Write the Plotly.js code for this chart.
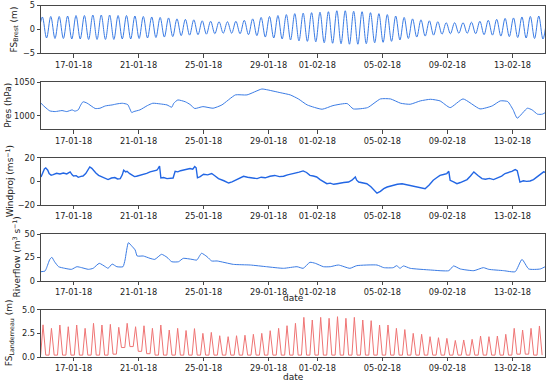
<!DOCTYPE html>
<html><head><meta charset="utf-8">
<script src="https://cdn.plot.ly/plotly-3.0.1.min.js"></script>
<style>html,body{margin:0;padding:0;background:#fff}#chart{width:550px;height:383px}</style>
</head><body><div id="chart"></div>
<script>
// ---------- DATA ----------
// Time origin: 2018-01-15 00:00; times below are hours after it.
const tidePeriodH = 12.42;          // semi-diurnal sampling step between high waters
const brestFirstHighH = 2;          // first Brest high water
const landFirstHighH = 3;           // first Landerneau high water

// Brest free surface (m): successive high / low water levels
const brestHighs = [2.6,2.7,2.7,2.8,2.9,2.9,3.0,3.0,3.0,2.9, 2.9,2.8,2.7,2.6,2.5,2.4,2.2,2.1,2.0,1.8,
  1.7,1.6,1.6,1.7,1.9,2.2,2.5,2.7,2.9,3.1, 3.3,3.4,3.5,3.6,3.7,3.9,3.9,3.8,3.7,3.5,
  3.3,3.1,2.8,2.5,2.2,2.0,1.8,1.6,1.4,1.4, 1.4,1.5,1.7,1.9,2.1,2.3,2.4,2.6,2.7,2.8, 2.9];
const brestLows = [-1.8,-1.9,-1.9,-2.0,-2.0,-2.1,-2.1,-2.1,-2.1,-2.0, -2.0,-1.9,-1.8,-1.7,-1.6,-1.5,-1.3,-1.2,-1.1,-1.0,
  -0.9,-0.8,-0.8,-0.9,-1.1,-1.3,-1.6,-1.8,-2.0,-2.2, -2.4,-2.5,-2.6,-2.8,-2.9,-3.0,-3.1,-3.1,-3.0,-2.8,
  -2.7,-2.5,-2.2,-1.9,-1.6,-1.4,-1.2,-1.0,-0.9,-0.8, -0.8,-0.9,-1.1,-1.2,-1.4,-1.5,-1.7,-1.8,-1.9,-2.0];
const brestLowBefore = -1.8;

// Pressure (hPa)
const presHours = [0,6,13,21,31,38,46,50,55,58, 62,68,80,87,95,105,112,120,128,134, 137,146,157,165,176,186,193,196,202,213,
  220,227,239,254,267,287,304,326,335,353, 368,380,393,415,431,452,461,482,501,516, 531,545,560,575,589,604,623,648,666,678,
  689,697,703,718,725,733,740,747];
const presValues = [1018.8,1013,1007.4,1006.4,1007.9,1006.4,1008.9,1007,1009,1015, 1021,1019,1011,1011.4,1014.8,1016.3,1017.8,1018.8,1016.8,1004.9,
  1006.4,1008.9,1015.3,1018.8,1017.8,1016.3,1012.9,1018.8,1023.7,1021, 1017,1011,1013.8,1011.4,1016.3,1031.2,1031.2,1040,1038.6,1034.6,
  1031.2,1025.2,1016.3,1009.9,1015.3,1018.3,1010.4,1012.3,1025.2,1025.2, 1018.8,1017.3,1022.3,1024.7,1022.3,1012.3,1025.2,1010.4,1014.8,1022.3,
  1021.3,1008.9,996.6,1011.4,1008.9,1002.5,1002.5,1006.4];

// Projected wind (m/s)
const windHours = [0,3,5,7,10,12,15,18,23,28, 33,38,41,43,46,48,52,55,59,62, 66,69,72,75,77,81,85,89,92,96,
  99,104,109,113,117,120,122,125,127,131, 134,138,141,146,151,156,161,166,171,173, 175,177,181,186,190,195,198,202,206,210,
  215,220,224,227,229,231,235,240,246,252, 257,262,270,277,282,287,293,299,305,311, 319,325,331,338,345,352,358,364,370,375,
  381,387,392,397,402,407,412,417,422,427, 432,437,442,447,454,459,464,466,469,475, 481,487,492,496,501,506,511,516,520,526,
  533,539,545,551,556,561,567,573,579,584, 589,594,599,602,604,609,614,619,624,629, 634,639,645,651,656,662,668,674,680,685,
  690,695,700,703,707,712,717,722,727,732, 737,742,747];
const windValues = [3.7,8,10.5,11.4,9.4,6.6,5.2,5.7,6.8,6.2, 7.0,6.3,7.2,8.0,5.5,4.5,4.8,3.4,4.2,4.5, 6.6,9.5,12.2,11.0,9.4,7.0,5.1,4.0,3.2,2.5,
  1.5,2.8,3.2,2.0,2.3,5.5,9.4,8.0,8.5,6.5, 5.7,4.0,4.3,5.0,5.7,6.8,8.0,8.6,9.4,11.0, 13.0,2.8,3.2,2.3,2.6,2.8,8.5,8.0,9.0,9.4,
  9.8,10.8,10.2,12.5,11.5,3.0,4.0,6.0,5.5,6.6, 4.5,2.3,0.5,-1.4,-0.5,0.9,2.5,4.3,3.5,2.8, 2.3,3.5,3.0,4.3,5.0,4.0,4.3,5.5,6.6,7.0,
  7.8,8.8,7.5,5.1,4.5,3.7,1.5,0.0,-2.0,-1.5, -2.5,-2.0,-1.2,-1.0,-0.6,1.0,3.7,1.0,-0.6,-1.2, -2.0,-4.5,-7.5,-10.0,-8.5,-6.2,-4.8,-4.0,-3.4,-2.5,
  -2.0,-2.8,-3.4,-4.0,-5.0,-5.5,-6.2,-3.0,0.9,3.0, 5.1,5.8,6.6,8.5,0.9,-0.5,-2.0,-1.0,0.5,1.5, 4.5,8.0,5.0,2.3,1.8,2.5,1.5,2.8,4.5,6.6,
  7.5,8.5,10.0,9.0,-0.6,0.5,0.0,0.3,1.5,3.7, 5.5,8.0,7.1];

// River flow (m3/s)
const riverHours = [0,6,8,13,16,20,26,35,45,53, 60,70,77,86,95,99,105,112,121,124, 129,134,139,142,151,161,168,178,186,193,
  203,210,223,230,237,245,252,260,284,309, 333,358,378,387,397,405,417,427,439,456, 466,496,506,520,525,530,535,545,575,602,
  609,619,639,653,661,683,700,710,720,737, 747];
const riverValues = [9.9,10.6,13.5,23,25.2,20.5,15.2,13.5,12.4,15.2, 14.2,12.4,13.5,18.8,15.2,13.5,18,15.2,15.2,22.3,
  40.7,37.2,33,26.6,26.6,24.1,23,28.4,25.2,20.5, 20.5,24.1,23,22.3,29.5,25.9,21.3,21.3,17.7,17,
  15.2,13.5,15.2,13.5,19.9,18.8,15.2,15.2,17,13.5, 16.3,17,14.2,14.2,16.3,13.5,16,13.5,11.7,11,
  16,12.8,11,14.2,12.4,11,9.9,23,12.8,12.8, 16.3];

// Landerneau free surface (m): high-water peaks and the low level after each peak
const landPeaks = [3.4,3.03,3.38,3.2,3.38,3.03,3.56,3.38,3.45,3.14, 3.56,3.2,3.3,3.03,3.38,2.85,3.03,2.8,3.0,2.5,
  2.6,2.25,2.15,2.25,2.3,2.4,2.5,2.78,3.03,3.31, 3.56,4.19,3.91,4.19,4.09,4.26,4.09,4.19,3.91,3.84,
  3.38,3.38,3.03,2.9,2.5,2.4,2.15,2.04,1.97,1.75, 1.8,1.87,2.22,2.15,2.22,2.4,3.03,2.85,3.03,3.28];
const landLows = [0.2,0.2,0.2,0.2,0.2,0.2,0.2,0.2,0.3,1.0, 1.1,0.6,0.35,0.2,0.2,0.2,0.2,0.2,0.2,0.2,
  0.2,0.2,0.2,0.2,0.2,0.2,0.2,0.2,0.2,0.2, 0.2,0.2,0.2,0.2,0.2,0.2,0.2,0.2,0.2,0.2,
  0.2,0.2,0.2,0.2,0.2,0.2,0.2,0.2,0.2,0.2, 0.2,0.2,0.2,0.2,0.2,0.2,0.3,0.3,0.2,0.2];
const landLowBefore = 0.2;

// x tick dates (day-of-month locator: 1, 5, 9, ... restarts each month)
const xTickDates = ['2018-01-17','2018-01-21','2018-01-25','2018-01-29','2018-02-01','2018-02-05','2018-02-09','2018-02-13'];
const xTickLabels = ['17-01-18','21-01-18','25-01-18','29-01-18','01-02-18','05-02-18','09-02-18','13-02-18'];
const yTitles = ['FS<sub>Brest</sub> (m)', 'Pres (hPa)', 'Windproj (ms<sup>−1</sup>)', 'Riverflow (m<sup>3</sup> s<sup>−1</sup>)', 'FS<sub>Landerneau</sub> (m)'];

// ---------- helpers ----------
const T0 = Date.UTC(2018, 0, 15);
function hToDate(h) {
  const d = new Date(T0 + h * 3600000);
  const p = n => String(n).padStart(2, '0');
  return d.getUTCFullYear() + '-' + p(d.getUTCMonth() + 1) + '-' + p(d.getUTCDate()) + ' ' +
    p(d.getUTCHours()) + ':' + p(d.getUTCMinutes()) + ':' + p(d.getUTCSeconds());
}

// Brest: alternate high / low waters
const brestX = [hToDate(brestFirstHighH - tidePeriodH / 2)], brestY = [brestLowBefore];
brestHighs.forEach((v, k) => {
  const th = brestFirstHighH + k * tidePeriodH;
  brestX.push(hToDate(th)); brestY.push(v);
  if (k < brestLows.length) { brestX.push(hToDate(th + tidePeriodH / 2)); brestY.push(brestLows[k]); }
});

// Landerneau: low before each peak, peak, low after
const landX = [], landY = [];
landPeaks.forEach((v, k) => {
  const th = landFirstHighH + k * tidePeriodH;
  landX.push(hToDate(th - 3.5)); landY.push(k === 0 ? landLowBefore : landLows[k - 1]);
  landX.push(hToDate(th)); landY.push(v);
  landX.push(hToDate(th + 4)); landY.push(landLows[k]);
});

const blue = '#3a7be4';
const font = 'DejaVu Sans, sans-serif';
const traces = [
  {x: brestX, y: brestY, xaxis: 'x', yaxis: 'y', mode: 'lines', line: {color: blue, width: 1, shape: 'spline', smoothing: 1}},
  {x: presHours.map(hToDate), y: presValues, xaxis: 'x2', yaxis: 'y2', mode: 'lines', line: {color: blue, width: 1, shape: 'spline', smoothing: 0.5}},
  {x: windHours.map(hToDate), y: windValues, xaxis: 'x3', yaxis: 'y3', mode: 'lines', line: {color: '#2266e4', width: 1.4}},
  {x: riverHours.map(hToDate), y: riverValues, xaxis: 'x4', yaxis: 'y4', mode: 'lines', line: {color: blue, width: 1, shape: 'spline', smoothing: 0.5}},
  {x: landX, y: landY, xaxis: 'x5', yaxis: 'y5', mode: 'lines', line: {color: '#ef7474', width: 1}}
];

const H = 383, L = 41, W = 504;
const panelsPx = [[5.5, 53.3], [82.3, 129.3], [157.7, 205], [234, 281], [309.7, 357]];
const yRanges = [[-5, 5], [980, 1050], [-20, 20], [0, 50], [0, 5]];
const yTicks = [[-5, 0, 5], [1000, 1050], [-20, 0, 20], [0, 25, 50], [0, 2.5, 5]];
const titleXpx = [14, 8, 10, 16, 9];

const axBase = {
  showline: true, mirror: true, linecolor: '#333', linewidth: 0.9, ticks: 'outside', ticklen: 3.5,
  tickwidth: 0.9, tickcolor: '#333', showgrid: false, zeroline: false,
  tickfont: {family: font, size: 8.2, color: '#222'}
};
const layout = {
  width: 550, height: H, margin: {l: L, r: 5, t: 0, b: 0}, showlegend: false,
  paper_bgcolor: '#fff', plot_bgcolor: '#fff', annotations: []
};
panelsPx.forEach((p, i) => {
  const n = i === 0 ? '' : String(i + 1);
  layout['xaxis' + n] = Object.assign({}, axBase, {
    domain: [0, 1], anchor: 'y' + n, type: 'date', range: [hToDate(0), hToDate(744)],
    tickmode: 'array', tickvals: xTickDates, ticktext: xTickLabels
  });
  layout['yaxis' + n] = Object.assign({}, axBase, {
    domain: [1 - p[1] / H, 1 - p[0] / H], anchor: 'x' + n, range: yRanges[i], tickvals: yTicks[i],
    tickformat: i === 4 ? '.1f' : ''
  });
  layout.annotations.push({
    text: yTitles[i], xref: 'paper', yref: 'paper', x: (titleXpx[i] - L) / W, y: 1 - (p[0] + p[1]) / 2 / H,
    textangle: -90, showarrow: false, xanchor: 'center', yanchor: 'middle',
    font: {family: font, size: 9, color: '#222'}
  });
});
[298, 377].forEach(py => layout.annotations.push({
  text: 'date', xref: 'paper', yref: 'paper', x: 0.5, y: 1 - py / H, showarrow: false,
  xanchor: 'center', yanchor: 'middle', font: {family: font, size: 9, color: '#222'}
}));

Plotly.newPlot('chart', traces, layout, {staticPlot: true, displayModeBar: false});
</script>
</body></html>
